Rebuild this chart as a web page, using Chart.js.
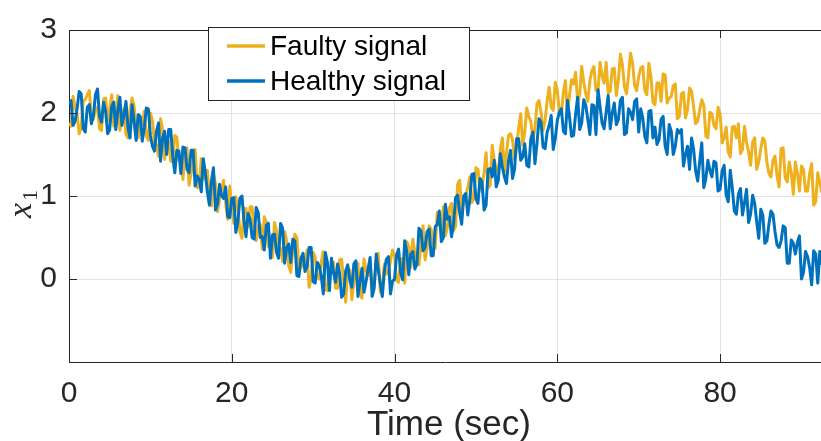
<!DOCTYPE html>
<html>
<head>
<meta charset="utf-8">
<script src="https://cdn.jsdelivr.net/npm/chart.js@4"></script>
<style>
  html, body { margin: 0; padding: 0; background: #fff; }
  #wrap { width: 821px; height: 441px; }
</style>
</head>
<body>
<div id="wrap"><canvas id="grafica" width="821" height="441"></canvas></div>
<script>
const tStep = 0.25;

const healthy = [
  2.10, 2.15, 1.85, 1.90, 2.06, 2.26, 2.23, 1.81, 1.77, 2.07, 2.10, 1.87, 1.97, 2.22, 2.29, 1.96, 1.89, 2.13, 2.02, 1.75,
  1.80, 2.08, 2.13, 1.80, 2.03, 2.19, 1.85, 1.97, 2.14, 1.82, 1.70, 2.10, 1.89, 1.67, 1.98, 1.96, 1.66, 1.82, 2.06, 2.05,
  1.73, 1.60, 1.54, 1.78, 1.88, 1.42, 1.70, 1.78, 1.50, 1.80, 1.80, 1.48, 1.28, 1.55, 1.54, 1.27, 1.59, 1.58, 1.32, 1.28,
  1.55, 1.55, 1.12, 1.24, 1.20, 1.05, 1.45, 1.28, 1.05, 0.89, 1.18, 1.34, 0.83, 0.91, 1.14, 1.00, 0.97, 1.11, 0.75, 0.74,
  0.97, 0.98, 0.56, 0.69, 0.97, 1.00, 0.71, 0.51, 0.79, 0.72, 0.50, 0.48, 0.86, 0.80, 0.50, 0.51, 0.35, 0.65, 0.67, 0.25,
  0.53, 0.54, 0.32, 0.25, 0.67, 0.61, 0.19, 0.38, 0.42, 0.20, 0.48, 0.46, 0.04, 0.03, 0.25, 0.31, 0.09, 0.15, 0.38, 0.38,
  -0.03, -0.05, 0.20, 0.16, 0.03, -0.18, 0.32, 0.20, -0.14, 0.25, 0.08, -0.04, 0.18, 0.07, -0.22, -0.18, 0.10, 0.17, -0.01, -0.10,
  0.18, 0.22, -0.21, -0.03, 0.13, -0.16, -0.03, 0.12, 0.26, -0.21, -0.11, 0.30, 0.11, -0.06, -0.21, 0.10, 0.24, 0.27, -0.18, -0.03,
  0.00, 0.29, 0.36, 0.07, -0.01, 0.46, 0.33, 0.05, 0.30, 0.33, 0.12, 0.18, 0.61, 0.58, 0.34, 0.38, 0.57, 0.60, 0.28, 0.28,
  0.63, 0.66, 0.82, 0.45, 0.50, 0.90, 0.72, 0.75, 0.51, 0.66, 0.98, 1.01, 0.80, 0.66, 1.00, 1.03, 0.77, 0.96, 1.26, 1.27,
  0.97, 0.91, 1.21, 1.17, 0.83, 0.89, 1.32, 1.33, 1.23, 1.43, 1.11, 1.19, 1.51, 1.35, 1.23, 1.15, 1.42, 1.55, 1.21, 1.33,
  1.69, 1.69, 1.43, 1.47, 1.63, 1.37, 1.35, 1.69, 1.77, 1.39, 1.63, 1.93, 1.89, 1.59, 1.57, 1.77, 1.85, 1.97, 1.56, 1.69,
  1.91, 2.01, 2.05, 1.78, 1.75, 2.15, 1.95, 1.72, 1.73, 1.99, 2.19, 1.80, 1.88, 2.16, 2.09, 1.92, 1.74, 2.10, 2.09, 1.74,
  2.28, 2.08, 1.88, 1.81, 2.01, 2.21, 1.81, 2.00, 2.12, 1.86, 1.92, 2.15, 2.19, 1.74, 1.76, 2.05, 2.01, 1.92, 2.14, 2.17,
  1.77, 2.05, 1.94, 1.72, 1.64, 2.02, 2.03, 1.70, 1.83, 1.62, 1.68, 1.92, 1.96, 1.60, 1.50, 1.86, 1.78, 1.50, 1.60, 1.80,
  1.76, 1.80, 1.36, 1.50, 1.60, 1.32, 1.70, 1.56, 1.30, 1.18, 1.42, 1.64, 1.10, 1.21, 1.43, 1.31, 1.23, 1.42, 1.40, 1.06,
  1.08, 1.30, 1.37, 1.01, 0.93, 1.31, 1.10, 0.82, 0.78, 1.02, 1.09, 0.77, 0.92, 1.08, 0.68, 0.78, 1.01, 0.91, 0.69, 0.49,
  0.84, 0.77, 0.43, 0.46, 0.66, 0.82, 0.78, 0.57, 0.41, 0.38, 0.46, 0.64, 0.62, 0.19, 0.19, 0.47, 0.43, 0.30, 0.44, 0.52,
  0.00, 0.08, 0.33, 0.27, 0.14, -0.07, 0.34, 0.30, -0.05, 0.33, 0.17
];

const faulty = [
  1.88, 1.84, 2.20, 2.06, 1.99, 1.75, 1.83, 2.15, 2.16, 2.22, 2.27, 1.94, 1.92, 2.06, 2.07, 1.81, 1.79, 2.17, 2.18, 1.90,
  2.05, 2.22, 1.84, 1.94, 2.21, 1.79, 1.91, 2.05, 1.74, 1.70, 2.04, 2.18, 2.09, 1.77, 1.70, 1.88, 1.86, 2.02, 1.73, 1.67,
  2.00, 1.91, 1.64, 1.62, 1.48, 1.93, 1.80, 1.44, 1.66, 1.65, 1.42, 1.41, 1.73, 1.71, 1.43, 1.42, 1.20, 1.54, 1.58, 1.13,
  1.27, 1.41, 1.56, 1.10, 1.11, 1.45, 1.22, 1.20, 1.31, 1.01, 0.88, 1.26, 1.15, 0.81, 0.96, 1.08, 1.19, 0.91, 0.72, 1.12,
  0.87, 0.67, 0.99, 0.85, 0.57, 0.49, 0.85, 0.85, 0.63, 0.87, 0.87, 0.55, 0.46, 0.64, 0.66, 0.36, 0.75, 0.69, 0.39, 0.40,
  0.26, 0.68, 0.58, 0.39, 0.37, 0.21, 0.57, 0.46, 0.16, 0.08, 0.36, 0.54, 0.50, 0.13, 0.13, 0.23, 0.21, 0.35, -0.10, 0.00,
  0.32, 0.26, 0.02, 0.00, 0.21, 0.33, -0.13, -0.14, 0.08, 0.10, 0.20, -0.11, -0.11, 0.23, 0.24, -0.03, -0.28, 0.13, 0.11, -0.25,
  -0.04, 0.08, 0.19, -0.17, -0.23, 0.24, 0.10, 0.04, 0.16, -0.09, -0.07, 0.22, 0.31, -0.16, -0.09, 0.18, 0.06, 0.07, 0.22, 0.35,
  0.28, -0.02, -0.04, 0.23, 0.25, -0.05, 0.45, 0.39, 0.14, 0.48, 0.32, 0.25, 0.17, 0.42, 0.64, 0.23, 0.37, 0.64, 0.60, 0.43,
  0.37, 0.80, 0.65, 0.60, 0.87, 0.52, 0.63, 0.86, 0.91, 0.58, 0.63, 1.14, 1.19, 0.82, 0.93, 1.01, 1.10, 1.23, 0.92, 0.97,
  1.34, 1.32, 1.07, 1.12, 1.28, 1.52, 1.10, 1.13, 1.61, 1.43, 1.34, 1.28, 1.56, 1.70, 1.29, 1.51, 1.73, 1.75, 1.68, 1.44,
  1.58, 1.82, 1.99, 1.61, 1.77, 2.06, 1.96, 1.90, 1.68, 1.81, 2.11, 2.15, 2.01, 1.79, 1.91, 2.15, 2.31, 2.07, 2.03, 2.37,
  2.27, 2.01, 1.98, 2.26, 2.39, 1.97, 2.22, 2.40, 2.35, 2.49, 2.12, 2.23, 2.56, 2.37, 2.23, 2.14, 2.39, 2.51, 2.56, 2.27,
  2.26, 2.61, 2.45, 2.36, 2.61, 2.24, 2.26, 2.53, 2.54, 2.21, 2.39, 2.71, 2.58, 2.32, 2.23, 2.45, 2.72, 2.60, 2.33, 2.27,
  2.44, 2.54, 2.56, 2.27, 2.22, 2.60, 2.44, 2.13, 2.10, 2.36, 2.36, 2.14, 2.47, 2.46, 2.12, 2.18, 2.20, 2.33, 2.35, 1.93,
  1.96, 2.23, 2.25, 1.94, 2.04, 2.30, 2.26, 2.07, 1.87, 1.90, 2.04, 2.16, 2.10, 1.72, 1.70, 2.01, 1.99, 1.85, 1.81, 2.07,
  1.99, 1.64, 1.70, 1.83, 1.53, 1.47, 1.83, 1.84, 1.70, 1.87, 1.51, 1.56, 1.84, 1.65, 1.53, 1.37, 1.65, 1.70, 1.32, 1.41,
  1.57, 1.70, 1.66, 1.41, 1.27, 1.23, 1.43, 1.48, 1.24, 1.11, 1.57, 1.58, 1.22, 1.17, 1.41, 1.28, 1.02, 1.41, 1.27, 1.06,
  1.36, 1.32, 1.06, 1.06, 1.27, 1.39, 0.89, 0.93, 1.28, 1.16, 1.04
];

const xTicks = [0, 20, 40, 60, 80];
const yTicks = [0, 1, 2, 3];
const legendNames = ['Faulty signal', 'Healthy signal'];
const xLabel = 'Time (sec)';

const axisColor = '#262626';
const gridColor = '#e3e3e3';
const faultyColor = '#EDB120';
const healthyColor = '#0072BD';

const toPoints = arr => arr.map((v, i) => ({ x: i * tStep, y: v }));

// matlab look: inward ticks, top box line, legend box, axis labels
const matlabBits = {
  id: 'matlabBits',
  afterDraw(chart) {
    const { ctx, chartArea: a, scales } = chart;
    ctx.save();
    ctx.strokeStyle = axisColor;
    ctx.lineWidth = 1;
    ctx.beginPath();
    ctx.moveTo(a.left, a.top + 0.5);
    ctx.lineTo(a.right, a.top + 0.5);
    xTicks.forEach(t => {
      const px = Math.round(scales.x.getPixelForValue(t)) + 0.5;
      ctx.moveTo(px, a.bottom);
      ctx.lineTo(px, a.bottom - 8);
      ctx.moveTo(px, a.top);
      ctx.lineTo(px, a.top + 8);
    });
    yTicks.forEach(t => {
      const py = Math.round(scales.y.getPixelForValue(t)) + 0.5;
      ctx.moveTo(a.left, py);
      ctx.lineTo(a.left + 8, py);
    });
    ctx.stroke();

    // legend
    const lx = 208, ly = 27, lw = 261, lh = 73;
    ctx.fillStyle = '#fff';
    ctx.fillRect(lx, ly, lw, lh);
    ctx.strokeRect(lx + 0.5, ly + 0.5, lw, lh);
    const cols = [faultyColor, healthyColor];
    ctx.font = '28px "Liberation Sans", Arial, sans-serif';
    ctx.textBaseline = 'middle';
    legendNames.forEach((name, i) => {
      const yy = ly + 19 + i * 35;
      ctx.strokeStyle = cols[i];
      ctx.lineWidth = 3.5;
      ctx.beginPath();
      ctx.moveTo(lx + 19, yy);
      ctx.lineTo(lx + 57, yy);
      ctx.stroke();
      ctx.fillStyle = '#000';
      ctx.fillText(name, lx + 62, yy + 1);
    });

    // x label
    ctx.fillStyle = axisColor;
    ctx.textAlign = 'center';
    ctx.textBaseline = 'alphabetic';
    ctx.font = '35px "Liberation Sans", Arial, sans-serif';
    ctx.fillText(xLabel, (a.left + a.right) / 2 + 4, 435);

    // y label x_1
    ctx.textAlign = 'left';
    ctx.translate(31, (a.top + a.bottom) / 2);
    ctx.rotate(-Math.PI / 2);
    ctx.font = 'italic 34px "Liberation Serif", "DejaVu Serif", serif';
    ctx.fillText('x', -22, 0);
    ctx.font = '22px "Liberation Serif", "DejaVu Serif", serif';
    ctx.fillText('1', -5, 6);
    ctx.restore();
  }
};

const grafica = document.getElementById('grafica');

let myChart = new Chart(grafica, {
  type: 'line',
  data: {
    datasets: [
      {
        label: legendNames[1],
        data: toPoints(healthy),
        borderColor: healthyColor,
        borderWidth: 3,
        borderJoinStyle: 'round',
        pointRadius: 0,
        tension: 0,
        order: 0
      },
      {
        label: legendNames[0],
        data: toPoints(faulty),
        borderColor: faultyColor,
        borderWidth: 3,
        borderJoinStyle: 'round',
        pointRadius: 0,
        tension: 0,
        order: 1
      }
    ]
  },
  options: {
    responsive: false,
    animation: false,
    devicePixelRatio: 1,
    layout: { padding: { top: 22, right: 0, bottom: 0, left: 0 } },
    scales: {
      x: {
        type: 'linear',
        min: 0,
        max: 92.4,
        afterFit: s => { s.height = 79; },
        ticks: {
          stepSize: 20,
          includeBounds: false,
          color: axisColor,
          padding: 14,
          maxRotation: 0,
          font: { family: '"Liberation Sans", Arial, sans-serif', size: 30 },
          callback: v => xTicks.includes(v) ? String(v) : ''
        },
        grid: {
          drawTicks: false,
          color: c => (c.tick && c.tick.value === 0) ? 'rgba(0,0,0,0)' : gridColor
        },
        border: { color: axisColor, width: 1 }
      },
      y: {
        min: -1,
        max: 3,
        afterFit: s => { s.width = 69; },
        ticks: {
          stepSize: 1,
          color: axisColor,
          padding: 12,
          font: { family: '"Liberation Sans", Arial, sans-serif', size: 30 },
          callback: v => yTicks.includes(v) ? String(v) : ''
        },
        grid: {
          drawTicks: false,
          color: c => (c.tick && c.tick.value > -1 && c.tick.value < 3) ? gridColor : 'rgba(0,0,0,0)'
        },
        border: { color: axisColor, width: 1 }
      }
    },
    plugins: {
      legend: { display: false },
      tooltip: { enabled: false }
    }
  },
  plugins: [matlabBits]
});
</script>
</body>
</html>
